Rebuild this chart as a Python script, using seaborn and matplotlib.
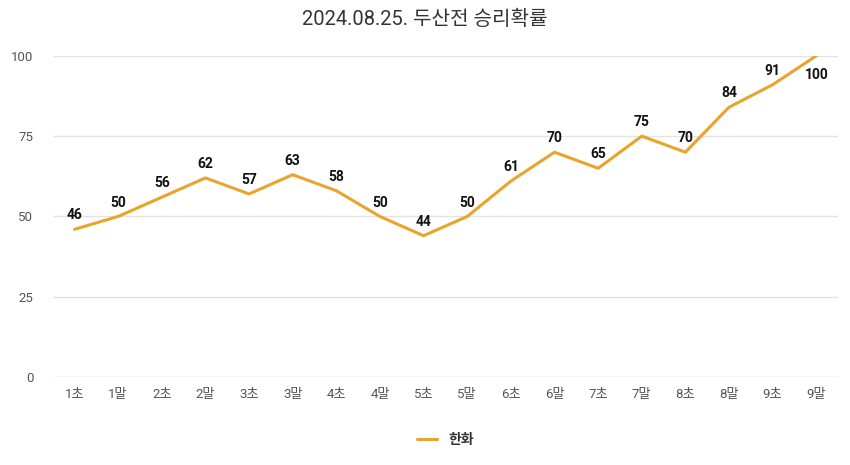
import numpy as np
import pandas as pd
import matplotlib
matplotlib.use("Agg")
import matplotlib.pyplot as plt
import seaborn as sns

innings = ["1초", "1말", "2초", "2말", "3초", "3말", "4초", "4말", "5초",
           "5말", "6초", "6말", "7초", "7말", "8초", "8말", "9초", "9말"]
win_prob = [46, 50, 56, 62, 57, 63, 58, 50, 44, 50, 61, 70, 65, 75, 70, 84, 91, 100]
y_ticks = [0, 25, 50, 75, 100]
team = "한화"
title = "2024.08.25. 두산전 승리확률"

df = pd.DataFrame({"inning": innings, "prob": win_prob, "team": team})

sns.set_theme(style="white")
plt.rcParams["font.family"] = ["Roboto", "Noto Sans CJK KR", "DejaVu Sans"]

fig = plt.figure(figsize=(8.5, 4.65), dpi=100)
ax = fig.add_axes([0.062, 0.189, 0.924, 0.691])

line_color = "#E8A42C"
sns.lineplot(data=df, x="inning", y="prob", hue="team", palette=[line_color],
             linewidth=2.2, sort=False, ax=ax, legend=True)

ax.set_xlim(-0.5, len(innings) - 0.5)
ax.set_ylim(0, 100)
ax.set_yticks(y_ticks)
ax.set_xticks(range(len(innings)))
ax.set_xticklabels(innings)
ax.tick_params(axis="both", colors="#555555", labelsize=9.5, length=0)
ax.tick_params(axis="x", pad=8)
ax.tick_params(axis="y", pad=14)
ax.set_xlabel("")
ax.set_ylabel("")
for s in ax.spines.values():
    s.set_visible(False)
for t in y_ticks:
    ax.axhline(t, color="#bfd0d8" if t == 0 else "#e3e3e3", linewidth=1, zorder=0)

# data labels, the top one goes under the point
for i, v in enumerate(win_prob):
    dy = -14 if v >= 100 else 10
    ax.annotate(str(v), (i, v), xytext=(0, dy), textcoords="offset points",
                ha="center", va="center", fontsize=10, fontweight="bold", color="#111111")

fig.suptitle(title, x=0.5, y=0.978, fontsize=14.5, color="#333333")

leg = ax.legend(loc="upper center", bbox_to_anchor=(0.5, -0.135), frameon=False,
                handlelength=1.4, fontsize=10)
for txt in leg.get_texts():
    txt.set_fontweight("bold")
    txt.set_color("#333333")

fig.savefig("out.png", dpi=100)
